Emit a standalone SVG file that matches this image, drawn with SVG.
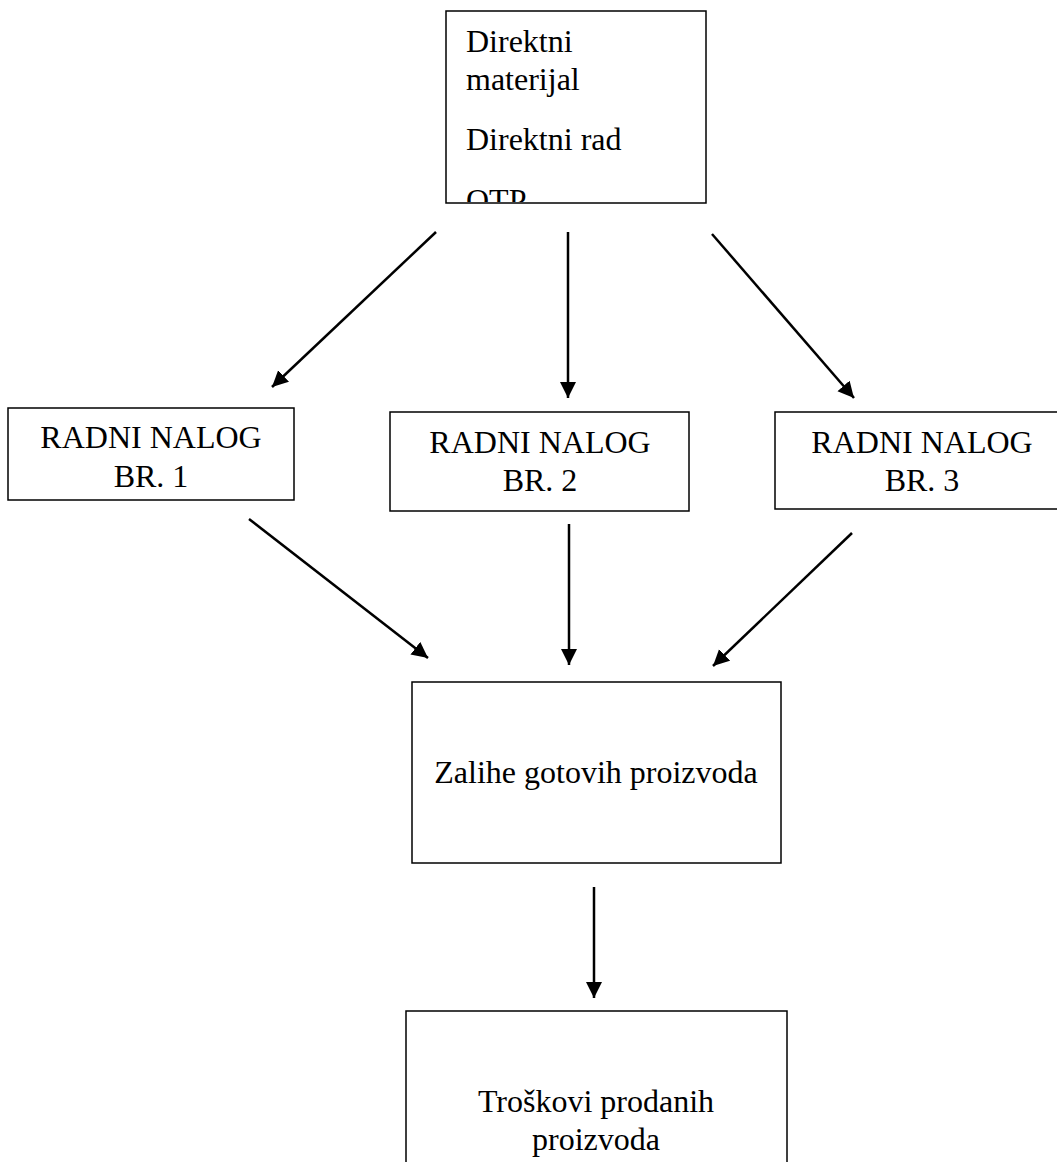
<svg xmlns="http://www.w3.org/2000/svg" width="1057" height="1162" viewBox="0 0 1057 1162">
<style>
.box{fill:#fff;stroke:#000;stroke-width:1.5}
.t{font-family:"Liberation Serif","Times New Roman",serif;font-size:32px;fill:#000}
.c{text-anchor:middle}
.arr{stroke:#000;stroke-width:2.5;fill:none;marker-end:url(#ah)}
</style>
<defs>
<marker id="ah" markerUnits="userSpaceOnUse" markerWidth="18" markerHeight="18" refX="16" refY="8" orient="auto">
<path d="M0,0 L16,8 L0,16 Z" fill="#000"/>
</marker>
<clipPath id="topclip"><rect x="447" y="12" width="258" height="190"/></clipPath>
</defs>
<rect width="1057" height="1162" fill="#fff"/>
<g id="connectors">
<line class="arr" x1="436" y1="232" x2="272" y2="387"/>
<line class="arr" x1="568" y1="232" x2="568" y2="398"/>
<line class="arr" x1="712" y1="234" x2="854" y2="398"/>
<line class="arr" x1="249" y1="519" x2="428" y2="658"/>
<line class="arr" x1="569" y1="524" x2="569" y2="665"/>
<line class="arr" x1="852" y1="533" x2="713" y2="666"/>
<line class="arr" x1="594" y1="887" x2="594" y2="998"/>
</g>
<g id="inputs">
<rect class="box" x="446" y="11" width="260" height="192"/>
<g clip-path="url(#topclip)">
<text class="t" x="466" y="52">Direktni</text>
<text class="t" x="466" y="90">materijal</text>
<text class="t" x="466" y="150">Direktni rad</text>
<text class="t" x="466" y="211">OTP</text>
</g>
</g>
<g id="rn1">
<rect class="box" x="8" y="408" width="286" height="92"/>
<text class="t c" x="151" y="448">RADNI NALOG</text>
<text class="t c" x="151" y="487">BR. 1</text>
</g>
<g id="rn2">
<rect class="box" x="390" y="412" width="299" height="99"/>
<text class="t c" x="540" y="453">RADNI NALOG</text>
<text class="t c" x="540" y="491">BR. 2</text>
</g>
<g id="rn3">
<rect class="box" x="775" y="412" width="290" height="97"/>
<text class="t c" x="922" y="453">RADNI NALOG</text>
<text class="t c" x="922" y="491">BR. 3</text>
</g>
<g id="zalihe">
<rect class="box" x="412" y="682" width="369" height="181"/>
<text class="t c" x="596" y="783">Zalihe gotovih proizvoda</text>
</g>
<g id="troskovi">
<rect class="box" x="406" y="1011" width="381" height="200"/>
<text class="t c" x="596" y="1112">Troškovi prodanih</text>
<text class="t c" x="596" y="1150">proizvoda</text>
</g>
</svg>
